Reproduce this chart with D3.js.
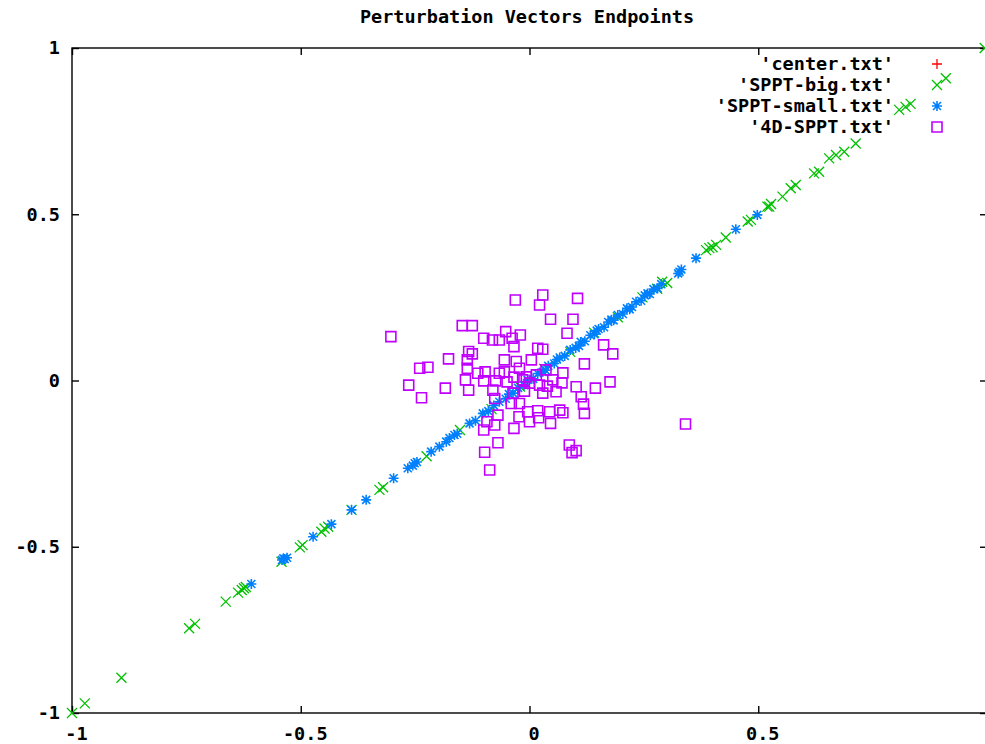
<!DOCTYPE html>
<html>
<head>
<meta charset="utf-8">
<script src="https://cdn.jsdelivr.net/npm/d3@7"></script>
<style>
  html, body { margin: 0; padding: 0; background: #fff; overflow: hidden; }
  svg { display: block; }
  text { font-family: "DejaVu Sans Mono", "Liberation Mono", monospace; font-weight: bold; font-size: 18.5px; fill: #000; }
</style>
</head>
<body>
<svg id="chart" width="985" height="744"></svg>
<script>
// ---------------- data ----------------
const title = "Perturbation Vectors Endpoints";
const xTicks = [-1, -0.5, 0, 0.5, 1];
const yTicks = [-1, -0.5, 0, 0.5, 1];
const xTickLabels = ["-1", "-0.5", "0", "0.5", ""];   // label at x=1 lies beyond the picture edge
const yTickLabels = ["-1", "-0.5", "0", "0.5", "1"];
const seriesNames = ["'center.txt'", "'SPPT-big.txt'", "'SPPT-small.txt'", "'4D-SPPT.txt'"];
const seriesColors = ["#ff0000", "#00c000", "#0080ff", "#c000ff"];

const centerPts = [[0, 0]];

const spptBig = [
  [-1.0,-1.0],[-0.972,-0.971],[-0.892,-0.894],[-0.744,-0.745],[-0.731,-0.732],
  [-0.664,-0.665],[-0.637,-0.638],[-0.629,-0.630],[-0.624,-0.625],[-0.620,-0.621],
  [-0.542,-0.545],[-0.502,-0.502],[-0.496,-0.495],[-0.455,-0.455],[-0.448,-0.445],
  [-0.440,-0.440],[-0.389,-0.389],[-0.328,-0.329],[-0.320,-0.321],[-0.225,-0.228],
  [-0.152,-0.149],[-0.083,-0.086],[-0.021,-0.018],[0.032,0.035],[0.089,0.086],
  [0.141,0.144],[0.193,0.190],[0.247,0.250],[0.279,0.276],[0.290,0.297],
  [0.301,0.293],[0.386,0.392],[0.393,0.398],[0.400,0.401],[0.408,0.408],
  [0.429,0.430],[0.477,0.478],[0.484,0.483],[0.520,0.523],[0.524,0.523],
  [0.528,0.531],[0.553,0.553],[0.571,0.578],[0.582,0.588],[0.622,0.623],
  [0.633,0.628],[0.655,0.668],[0.670,0.678],[0.688,0.688],[0.713,0.713],
  [0.808,0.814],[0.822,0.823],[0.833,0.832],[0.910,0.909],[0.995,1.0]
];

const spptSmall = [
  [-0.608,-0.612],[-0.530,-0.533],[-0.535,-0.537],[-0.538,-0.535],[-0.541,-0.540],
  [-0.473,-0.470],[-0.433,-0.432],[-0.389,-0.389],[-0.357,-0.359],[-0.297,-0.294],
  [-0.266,-0.264],[-0.251,-0.249],[-0.246,-0.245],[-0.255,-0.256],[-0.215,-0.214],
  [-0.197,-0.199],[-0.182,-0.184],[-0.175,-0.173],[-0.164,-0.164],[-0.158,-0.160],
  [-0.131,-0.129],[-0.118,-0.121],[-0.102,-0.099],[-0.090,-0.092],[-0.078,-0.075],
  [-0.066,-0.064],[-0.052,-0.055],[-0.045,-0.041],[-0.036,-0.038],[-0.025,-0.022],
  [-0.012,-0.014],[-0.004,0.002],[0.008,0.005],[0.018,0.021],[0.029,0.026],
  [0.035,0.031],[0.041,0.044],[0.054,0.051],[0.060,0.063],[0.066,0.069],
  [0.077,0.074],[0.089,0.092],[0.101,0.098],[0.108,0.104],[0.112,0.116],
  [0.121,0.118],[0.133,0.136],[0.142,0.139],[0.147,0.150],[0.151,0.155],
  [0.163,0.160],[0.172,0.176],[0.179,0.183],[0.184,0.181],[0.193,0.197],
  [0.204,0.200],[0.213,0.217],[0.219,0.214],[0.224,0.221],[0.233,0.237],
  [0.244,0.240],[0.252,0.256],[0.258,0.262],[0.263,0.260],[0.271,0.275],
  [0.280,0.277],[0.288,0.290],[0.325,0.322],[0.328,0.327],[0.332,0.334],
  [0.364,0.368],[0.451,0.455],[0.498,0.498]
];

const sppt4D = [
  [-0.031,0.242],[0.029,0.257],[0.022,0.227],[0.105,0.247],[0.046,0.184],
  [0.095,0.184],[-0.147,0.165],[-0.125,0.165],[-0.303,0.132],[-0.052,0.147],
  [0.082,0.142],[-0.100,0.127],[-0.081,0.122],[-0.066,0.122],[-0.038,0.127],
  [-0.020,0.137],[-0.034,0.102],[0.018,0.097],[0.029,0.094],[0.162,0.107],
  [0.182,0.080],[-0.133,0.087],[-0.125,0.080],[-0.177,0.065],[-0.136,0.062],
  [-0.240,0.037],[-0.222,0.040],[-0.136,0.037],[-0.029,0.057],[0.004,0.062],
  [0.120,0.050],[-0.097,0.026],[-0.113,0.022],[-0.066,0.022],[-0.022,0.037],
  [-0.007,0.011],[0.015,0.017],[0.036,0.032],[0.073,0.023],[-0.264,-0.014],
  [-0.184,-0.023],[-0.140,0.002],[-0.133,-0.029],[-0.100,-0.001],[-0.074,-0.001],
  [-0.049,-0.004],[-0.034,0.010],[-0.015,0.002],[0.051,0.002],[0.071,-0.007],
  [0.102,-0.019],[0.144,-0.023],[0.176,-0.004],[-0.236,-0.052],[-0.080,-0.029],
  [-0.036,-0.038],[0.029,-0.038],[0.058,-0.034],[0.022,-0.014],[-0.076,-0.054],
  [0.113,-0.049],[0.118,-0.071],[-0.040,-0.069],[-0.022,-0.069],[-0.004,-0.094],
  [0.018,-0.091],[0.044,-0.094],[0.066,-0.089],[0.073,-0.097],[0.120,-0.099],
  [-0.023,-0.109],[-0.069,-0.104],[0.000,-0.124],[0.020,-0.112],[0.046,-0.129],
  [-0.093,-0.124],[-0.100,-0.149],[-0.076,-0.134],[-0.034,-0.144],[-0.069,-0.187],
  [0.087,-0.194],[0.102,-0.211],[0.093,-0.217],[-0.098,-0.216],[-0.087,-0.269],
  [0.341,-0.131],[-0.055,0.026],[0.000,-0.008],[-0.011,-0.032],[0.039,-0.017],
  [-0.055,0.062]
];

// ---------------- layout ----------------
const plot = {left: 72, right: 987, top: 48, bottom: 713};
const svg = d3.select("#chart");

const x = d3.scaleLinear().domain([-1, 1]).range([plot.left, plot.right]);
const y = d3.scaleLinear().domain([-1, 1]).range([plot.bottom, plot.top]);

// marker shapes (gnuplot style)
const S = 5;
const markerPaths = [
  `M${-S},0H${S}M0,${-S}V${S}`,                                   // +
  `M${-S},${-S}L${S},${S}M${-S},${S}L${S},${-S}`,                  // x
  `M${-S},0H${S}M0,${-S}V${S}M-4,-4L4,4M-4,4L4,-4`,                // *
  `M-5,-5H5V5H-5Z`                                                 // square
];
const markerWidths = [1.3, 1.3, 1.6, 1.6];

// title
svg.append("text").attr("x", 527).attr("y", 23).attr("text-anchor", "middle").text(title);

// border
svg.append("rect")
  .attr("x", plot.left).attr("y", plot.top)
  .attr("width", plot.right - plot.left).attr("height", plot.bottom - plot.top)
  .attr("fill", "none").attr("stroke", "#000").attr("stroke-width", 1.4);

// axes via d3 (inward ticks, mirrored)
const tl = 7;
const fx = (d, i) => xTickLabels[i];
const fy = (d, i) => yTickLabels[i];
const axB = svg.append("g").attr("transform", `translate(0,${plot.bottom})`)
  .call(d3.axisBottom(x).tickValues(xTicks).tickSizeInner(-tl).tickSizeOuter(0).tickPadding(14).tickFormat(fx));
const axT = svg.append("g").attr("transform", `translate(0,${plot.top})`)
  .call(d3.axisTop(x).tickValues(xTicks).tickSizeInner(-tl).tickSizeOuter(0).tickFormat(""));
const axL = svg.append("g").attr("transform", `translate(${plot.left},0)`)
  .call(d3.axisLeft(y).tickValues(yTicks).tickSizeInner(-tl).tickSizeOuter(0).tickPadding(12).tickFormat(fy));
const axR = svg.append("g").attr("transform", `translate(${plot.right},0)`)
  .call(d3.axisRight(y).tickValues(yTicks).tickSizeInner(-tl).tickSizeOuter(0).tickFormat(""));
[axB, axT, axL, axR].forEach(g => {
  g.select(".domain").remove();
  g.selectAll("line").attr("stroke", "#000").attr("stroke-width", 1.4);
  g.selectAll("text").attr("font-family", null).attr("font-size", null).style("fill", "#000");
});
axB.selectAll("text").attr("dx", 4);

// series
const seriesData = [centerPts, spptBig, spptSmall, sppt4D];
seriesData.forEach((pts, i) => {
  svg.append("g").selectAll("path").data(pts).join("path")
    .attr("transform", d => `translate(${x(d[0])},${y(d[1])})`)
    .attr("d", markerPaths[i])
    .attr("fill", "none")
    .attr("stroke", seriesColors[i])
    .attr("stroke-width", markerWidths[i]);
});

// legend
const legRight = 894, legSym = 937, legTop = 64, legStep = 21;
seriesNames.forEach((name, i) => {
  const yy = legTop + i * legStep;
  svg.append("text").attr("x", legRight).attr("y", yy).attr("dy", "0.35em")
    .attr("text-anchor", "end").text(name);
  svg.append("path").attr("transform", `translate(${legSym},${yy})`)
    .attr("d", markerPaths[i]).attr("fill", "none")
    .attr("stroke", seriesColors[i]).attr("stroke-width", markerWidths[i]);
});
</script>
</body>
</html>
